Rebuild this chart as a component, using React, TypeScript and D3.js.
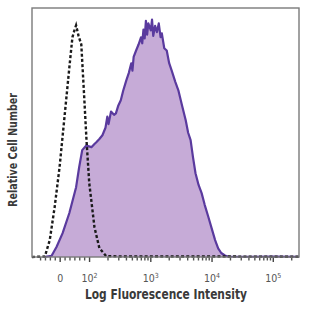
import React, { useRef, useEffect } from 'react';
import * as d3 from 'd3';

// x in display decades (logicle-like axis), y in relative count
const stainedX = [1.25, 1.38, 1.46, 1.56, 1.67, 1.78, 1.83, 1.88, 1.95, 1.99, 2.03, 2.08, 2.11, 2.16, 2.21, 2.26, 2.29, 2.31, 2.35, 2.40, 2.43, 2.47, 2.51, 2.55, 2.60, 2.64, 2.68, 2.70, 2.72, 2.76, 2.80, 2.84, 2.86, 2.88, 2.90, 2.92, 2.94, 2.96, 3.00, 3.02, 3.04, 3.07, 3.10, 3.13, 3.16, 3.18, 3.22, 3.26, 3.30, 3.34, 3.40, 3.45, 3.51, 3.57, 3.61, 3.65, 3.69, 3.73, 3.78, 3.83, 3.88, 3.94, 4.00, 4.05, 4.10, 4.15, 4.21, 4.26, 4.60, 5.00, 5.42];
const stainedY = [0, 0.5, 4.0, 9.6, 17.7, 28.1, 36.1, 43.0, 45.0, 44.5, 44.2, 45.5, 46.2, 47.5, 49.0, 52, 56.5, 53.5, 58.5, 57.2, 57.8, 61, 63.1, 67, 71.1, 74, 77.9, 75, 80.5, 83.1, 85.5, 88.4, 86, 91.5, 88, 95, 89.5, 94, 91.2, 95.5, 89, 93, 90.5, 94, 88.5, 90.0, 84, 83.1, 78, 75.1, 70.5, 67.1, 61, 55, 50, 47.0, 40, 33.7, 29, 25.7, 21, 16.1, 11, 6.8, 3.5, 1.6, 0.6, 0.2, 0.1, 0.2, 0.1];

const isotypeX = [1.06, 1.27, 1.35, 1.43, 1.51, 1.59, 1.67, 1.72, 1.75, 1.78, 1.82, 1.865, 1.91, 1.95, 1.995, 2.08, 2.16, 2.27, 2.5, 3, 4, 5.42];
const isotypeY = [0, 0.2, 6.8, 20.1, 36.1, 56.2, 76.3, 88.4, 91, 93.2, 89, 85.5, 65.5, 47.0, 29.7, 12.0, 3.6, 0.4, 0.2, 0.2, 0.2, 0.1];

const tickPos = [1.52, 2, 3, 4, 5];
const tickLabels = ['0', '10', '10', '10', '10'];
const tickExp = ['', '2', '3', '4', '5'];

const App = () => {
    const ref = useRef(null);

    useEffect(() => {
        const svg = d3.select(ref.current);
        svg.selectAll("*").remove();
        const left = 32, top = 8, right = 299, bottom = 257;

        const x = d3.scaleLinear().domain([1.06, 5.42]).range([left, right]);
        const y = d3.scaleLinear().domain([0, 100]).range([bottom, top + 0.5]);

        const stained = stainedX.map((v, i) => [v, stainedY[i]]);
        const isotype = isotypeX.map((v, i) => [v, isotypeY[i]]);

        const area = d3.area().x(d => x(d[0])).y0(bottom).y1(d => y(d[1]));
        const line = d3.line().x(d => x(d[0])).y(d => y(d[1]));

        svg.append("path").attr("d", area(stained)).attr("fill", "#c6abd7");
        svg.append("path").attr("d", line(stained))
            .attr("fill", "none").attr("stroke", "#5a3a9e").attr("stroke-width", 2.2)
            .attr("stroke-linejoin", "round");
        svg.append("path").attr("d", line(isotype))
            .attr("fill", "none").attr("stroke", "#1a1a1a").attr("stroke-width", 2.4)
            .attr("stroke-dasharray", "3,2.2");

        // minor ticks
        const minor = [];
        for (let dec = 1; dec <= 5; dec++) {
            for (let m = 2; m <= 9; m++) {
                const v = dec + Math.log10(m);
                if (v > 2 && v < 5.42) minor.push(v);
            }
        }
        [1.2, 1.28, 1.36, 1.44, 1.6, 1.68, 1.76, 1.84, 1.92].forEach(v => minor.push(v));
        svg.selectAll(".minor").data(minor).join("line")
            .attr("x1", d => x(d)).attr("x2", d => x(d))
            .attr("y1", bottom).attr("y2", bottom + 3.5)
            .attr("stroke", "#555").attr("stroke-width", 1.4);
        svg.selectAll(".major").data(tickPos).join("line")
            .attr("x1", d => x(d)).attr("x2", d => x(d))
            .attr("y1", bottom).attr("y2", bottom + 5)
            .attr("stroke", "#444").attr("stroke-width", 1.4);

        // frame
        svg.append("rect").attr("x", left).attr("y", top)
            .attr("width", right - left).attr("height", bottom - top)
            .attr("fill", "none").attr("stroke", "#7a7a7a").attr("stroke-width", 1.4);

        const font = "'Liberation Sans Narrow', 'DejaVu Sans Condensed', 'Liberation Sans', sans-serif";
        const lbl = svg.selectAll(".tl").data(tickPos).join("text")
            .attr("x", d => x(d)).attr("y", 282)
            .attr("text-anchor", "middle")
            .style("font-family", font).style("font-size", "10.5px").attr("fill", "#555");
        lbl.append("tspan").text((d, i) => tickLabels[i]);
        lbl.append("tspan").attr("dy", -4).style("font-size", "7px").text((d, i) => tickExp[i]);

        svg.append("text").attr("x", 166).attr("y", 299).attr("text-anchor", "middle")
            .attr("textLength", 162).attr("lengthAdjust", "spacingAndGlyphs")
            .style("font-family", font).style("font-size", "13.5px").style("font-weight", "bold").attr("fill", "#3a3a3a")
            .text("Log Fluorescence Intensity");

        svg.append("text").attr("transform", "translate(17,150) rotate(-90)")
            .attr("text-anchor", "middle")
            .attr("textLength", 114).attr("lengthAdjust", "spacingAndGlyphs")
            .style("font-family", font).style("font-size", "12.5px").style("font-weight", "bold").attr("fill", "#3a3a3a")
            .text("Relative Cell Number");
    }, []);

    return <svg ref={ref} width={312} height={312} style={{ position: "absolute", left: 0, top: 0, background: "#fff" }} />;
};

export default App;
